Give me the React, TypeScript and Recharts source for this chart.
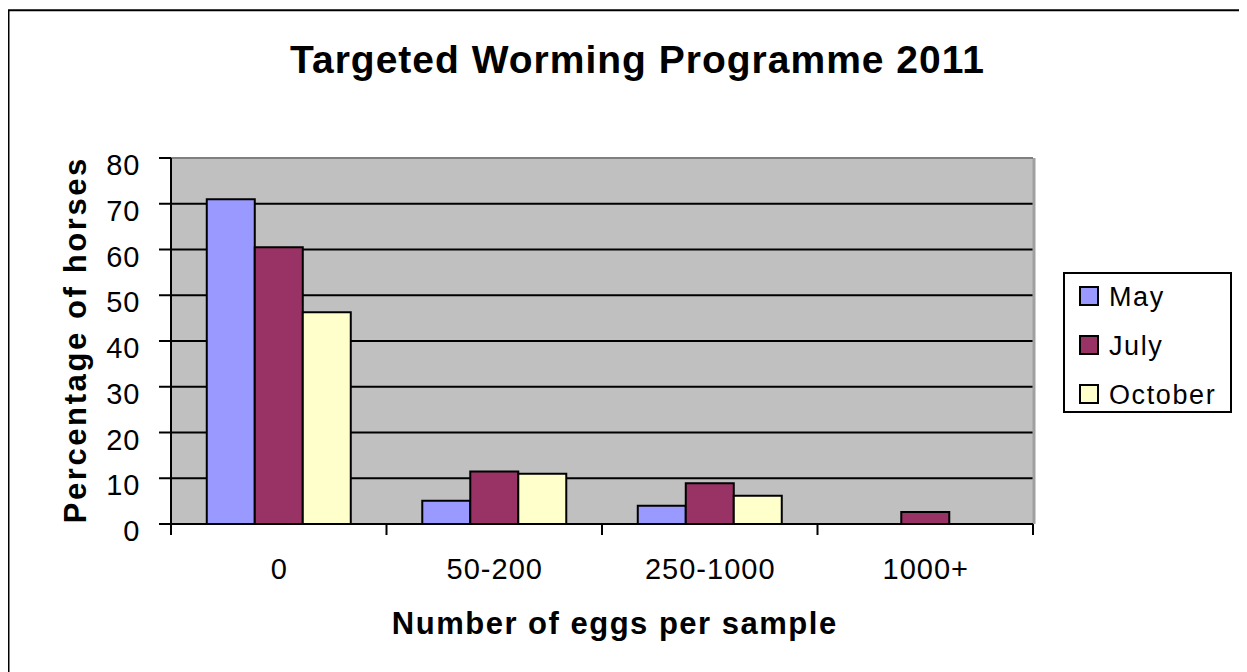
import React from 'react';
import { BarChart, Bar, XAxis, YAxis, CartesianGrid, Legend, ReferenceLine, Label } from 'recharts';

const categories = ['0', '50-200', '250-1000', '1000+'];
const mayValues = [71, 5.1, 4.0, 0];
const julyValues = [60.5, 11.5, 8.9, 2.6];
const octoberValues = [46.3, 11, 6.2, 0];
const yTicks = [0, 10, 20, 30, 40, 50, 60, 70, 80];
const seriesNames = ['May', 'July', 'October'];
const seriesColors = ['#9999ff', '#993366', '#ffffcc'];
const chartTitle = 'Targeted Worming Programme 2011';
const xTitle = 'Number of eggs per sample';
const yTitle = 'Percentage of horses';

const data = categories.map((c, i) => ({
  category: c,
  May: mayValues[i],
  July: julyValues[i],
  October: octoberValues[i],
}));

const FONT = '"Liberation Sans", Arial, Helvetica, sans-serif';

const XTick = (props: any) => {
  const { x, y, payload, width, visibleTicksCount, index } = props;
  const count = visibleTicksCount || categories.length;
  const half = payload && typeof payload.offset === 'number' && payload.offset > 0 ? payload.offset : width / count / 2;
  const idx = typeof index === 'number' ? index : payload.index;
  return (
    <g>
      <line x1={x - half} x2={x - half} y1={y} y2={y + 11} stroke="#000" strokeWidth={2} />
      {idx === count - 1 && (
        <line x1={x + half} x2={x + half} y1={y} y2={y + 11} stroke="#000" strokeWidth={2} />
      )}
      <text x={x} dx={0.5} y={y + 55} textAnchor="middle" fontSize={29} letterSpacing={1} fontFamily={FONT} fill="#000">
        {payload.value}
      </text>
    </g>
  );
};

const YTick = (props: any) => {
  const { x, y, payload } = props;
  return (
    <text x={x - 18.5} y={y + 17} textAnchor="end" fontSize={29} letterSpacing={1} fontFamily={FONT} fill="#000">
      {payload.value}
    </text>
  );
};

const LegendBox = () => {
  return (
    <svg width={169} height={141} style={{ display: 'block' }}>
      <rect x={1} y={1} width={167} height={139} fill="#fff" stroke="#000" strokeWidth={2} />
      {seriesNames.map((name, i) => (
        <g key={name}>
          <rect x={17} y={15 + 49 * i} width={18} height={18} fill={seriesColors[i]} stroke="#000" strokeWidth={2} />
          <text x={46} y={34 + 49 * i} fontSize={27} letterSpacing={1.6} fontFamily={FONT} fill="#000">
            {name}
          </text>
        </g>
      ))}
    </svg>
  );
};

export default function App() {
  return (
    <div style={{ width: 1239, height: 664, background: '#fff' }}>
      <BarChart
        width={1239}
        height={664}
        data={data}
        margin={{ top: 150, right: 214, bottom: 88, left: 63 }}
        barGap={0}
        barCategoryGap="16.6%"
        style={{ fontFamily: FONT }}
      >
        <path d="M0.5,664 V2.3 H1239" fill="none" stroke="#000" strokeWidth={2} />
        <text
          x={629}
          dx={0.5}
          y={65}
          textAnchor="middle"
          fontSize={39}
          fontWeight="bold"
          letterSpacing={1}
          fontFamily={FONT}
          fill="#000"
        >
          {chartTitle}
        </text>
        <CartesianGrid
          vertical={false}
          stroke="#000"
          strokeWidth={2}
          fill="#c0c0c0"
          fillOpacity={1}
        />
        <CartesianGrid
          horizontal={false}
          verticalCoordinatesGenerator={({ offset }: any) => [offset.left + offset.width + 1]}
          stroke="#a0a0a0"
          strokeWidth={3}
        />
        <ReferenceLine y={80} stroke="#808080" strokeWidth={2} />
        <XAxis
          dataKey="category"
          height={60}
          tickSize={0}
          tickMargin={0}
          tickLine={false}
          axisLine={{ stroke: '#000', strokeWidth: 2 }}
          tick={<XTick />}
          interval={0}
        >
          <Label
            content={({ viewBox }: any) => (
              <text
                x={viewBox.x + viewBox.width / 2 + 12}
                dx={0.75}
                y={viewBox.y + 110}
                textAnchor="middle"
                fontSize={31}
                fontWeight="bold"
                letterSpacing={1.5}
                fontFamily={FONT}
                fill="#000"
              >
                {xTitle}
              </text>
            )}
          />
        </XAxis>
        <YAxis
          width={100}
          domain={[0, 80]}
          ticks={yTicks}
          interval={0}
          tickSize={12}
          tickMargin={0}
          tickLine={{ stroke: '#000', strokeWidth: 2 }}
          axisLine={{ stroke: '#000', strokeWidth: 2 }}
          tick={<YTick />}
        >
          <Label
            content={({ viewBox }: any) => {
              const cx = viewBox.x + 15;
              const cy = viewBox.y + viewBox.height / 2;
              return (
                <text
                  x={cx}
                  y={cy}
                  dx={1.3}
                  textAnchor="middle"
                  transform={`rotate(-90, ${cx}, ${cy})`}
                  fontSize={31}
                  fontWeight="bold"
                  letterSpacing={2.6}
                  fontFamily={FONT}
                  fill="#000"
                >
                  {yTitle}
                </text>
              );
            }}
          />
        </YAxis>
        <Legend
          layout="horizontal"
          verticalAlign="middle"
          align="center"
          content={<LegendBox />}
          wrapperStyle={{ position: 'absolute', left: 1055, top: 264, width: 169, height: 141 }}
        />
        <Bar dataKey="May" name="May" fill={seriesColors[0]} stroke="#000" strokeWidth={2} isAnimationActive={false} />
        <Bar dataKey="July" name="July" fill={seriesColors[1]} stroke="#000" strokeWidth={2} isAnimationActive={false} />
        <Bar dataKey="October" name="October" fill={seriesColors[2]} stroke="#000" strokeWidth={2} isAnimationActive={false} />
      </BarChart>
    </div>
  );
}
